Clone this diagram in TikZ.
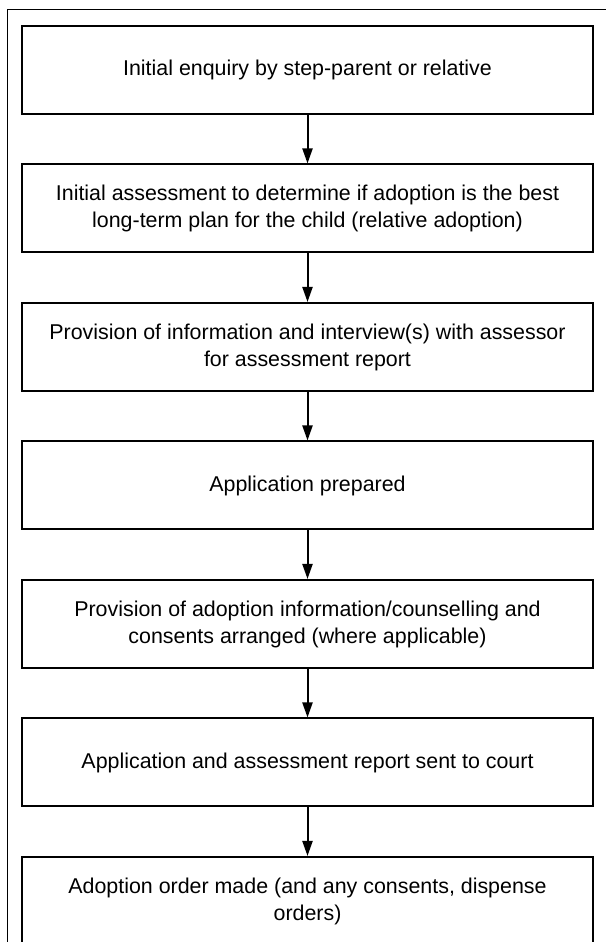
\documentclass[tikz,border=0pt]{standalone}
\usepackage{fontspec}
\setmainfont{Liberation Sans}
\usetikzlibrary{arrows.meta, positioning}

\begin{document}
\begin{tikzpicture}[
  x=1pt, y=1pt,
  node distance=48.5pt,
  stepbox/.style={draw=black, line width=2pt, minimum width=571pt, minimum height=88pt,
                  align=center, inner sep=0pt, font=\fontsize{21.4}{27}\selectfont},
  arr/.style={-{Triangle[length=15pt, width=10pt]}, line width=2pt},
  frame/.style={line width=1pt}
]
\useasboundingbox (0,0) rectangle (606,942);
\draw[frame] (7,0) -- (7,932) -- (606,932);

\node[stepbox] (s1) at (307.5,872) {Initial enquiry by step-parent or relative};
\node[stepbox, below=of s1] (s2) {Initial assessment to determine if adoption is the best\\long-term plan for the child (relative adoption)};
\node[stepbox, below=of s2] (s3) {Provision of information and interview(s) with assessor\\for assessment report};
\node[stepbox, below=of s3] (s4) {Application prepared};
\node[stepbox, below=of s4] (s5) {Provision of adoption information/counselling and\\consents arranged (where applicable)};
\node[stepbox, below=of s5] (s6) {Application and assessment report sent to court};
\node[stepbox, below=of s6] (s7) {Adoption order made (and any consents, dispense\\orders)};

\draw[arr] (s1) -- (s2);
\draw[arr] (s2) -- (s3);
\draw[arr] (s3) -- (s4);
\draw[arr] (s4) -- (s5);
\draw[arr] (s5) -- (s6);
\draw[arr] (s6) -- (s7);
\end{tikzpicture}
\end{document}
